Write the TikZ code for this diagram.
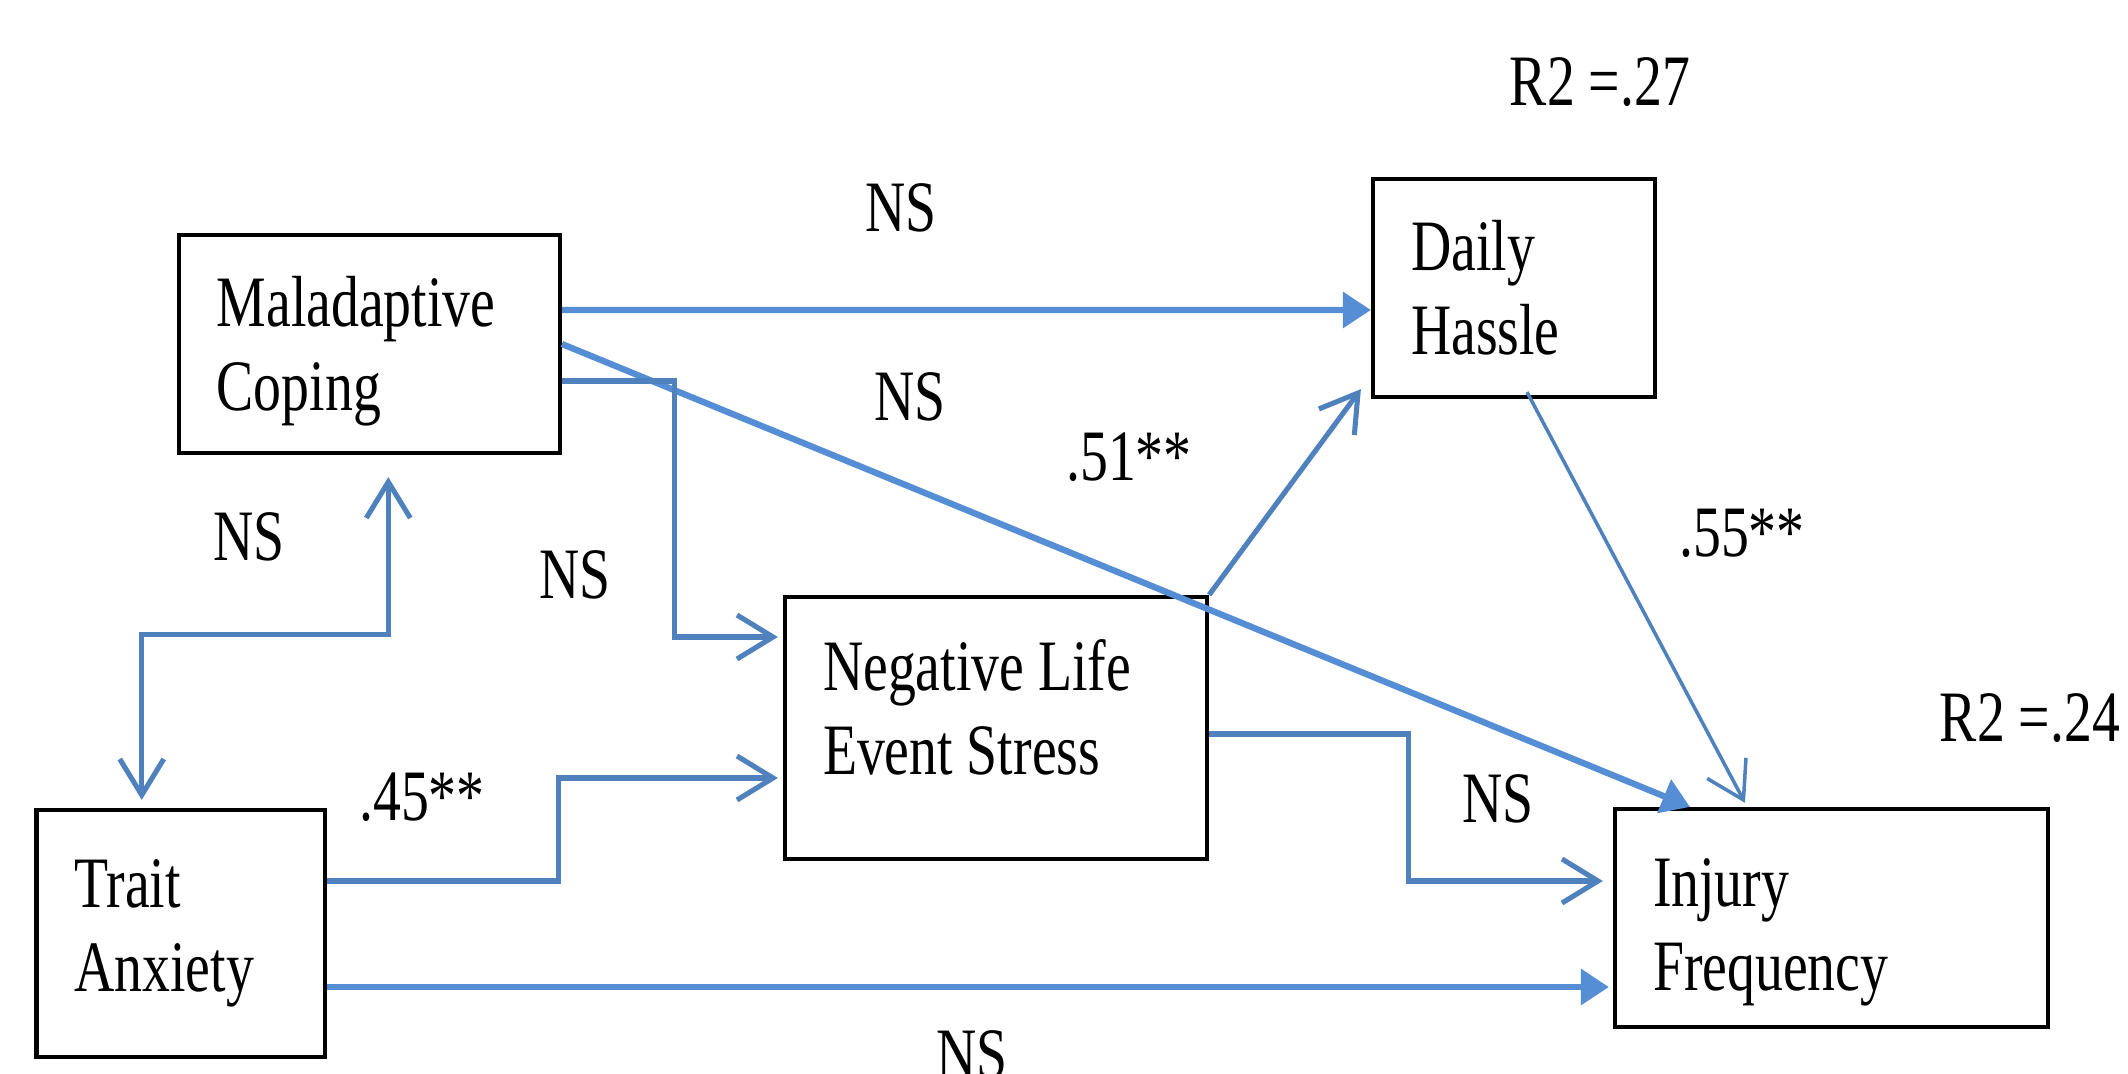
\documentclass[tikz,border=0pt]{standalone}
\usepackage{fontspec}
\setmainfont{Liberation Serif}[FakeStretch=0.77]
\usetikzlibrary{arrows.meta}
\definecolor{pathblue}{HTML}{558ED5}
\definecolor{elbowblue}{HTML}{4F81BD}
\newcommand{\diagfont}{\fontsize{20.6pt}{23.8pt}\selectfont}

\begin{document}
\begin{tikzpicture}[
    every node/.style={font=\diagfont},
    >={Straight Barb[length=3.6mm,width=4.4mm]},
    varbox/.style={draw=black, line width=1.2pt, rectangle, inner xsep=3.8mm,
                   inner ysep=0pt, align=flush left},
    coef/.style={inner sep=0pt},
    parrow/.style={-{Triangle[length=2.8mm,width=3.5mm]}, line width=1.8pt, color=pathblue},
    earrow/.style={->, line width=1.45pt, color=elbowblue}
]
\useasboundingbox (0,0) rectangle (21.28,10.73);

\node[varbox, text width=30.5mm, minimum height=21.8mm] (mal) at (3.693,7.29) {\rule{0pt}{6.4mm}Maladaptive\\Coping};
\node[varbox, text width=20.6mm, minimum height=21.8mm] (dh)  at (15.14,7.85) {Daily\\Hassle};
\node[varbox, text width=21.25mm, minimum height=24.7mm] (ta) at (1.8075,1.395) {Trait\\Anxiety};
\node[varbox, text width=34.6mm, minimum height=26.2mm] (neg) at (9.96,3.45) {Negative Life\\Event Stress\rule[-4.2mm]{0pt}{0pt}};
\node[varbox, text width=35.7mm, minimum height=21.8mm] (inj) at (18.315,1.55) {\rule{0pt}{7.6mm}Injury\\Frequency};

% --- paths out of maladaptive coping ---
\draw[parrow] ([yshift=3.4mm]mal.east) -- ([yshift=-2.2mm]dh.west);
\draw[parrow] (mal.east) -- ([xshift=-14.15mm]inj.north);
\draw[earrow] ([yshift=-3.7mm]mal.east) -- ++(1.13,0) |- ([xshift=-0.5mm,yshift=9.1mm]neg.west);
\draw[earrow, <->] ([xshift=-3.9mm,yshift=0.8mm]ta.north) -- ++(0,1.65)
      -| ([xshift=1.9mm,yshift=-2.2mm]mal.south);

% --- paths out of trait anxiety ---
\draw[earrow] ([yshift=5.25mm]ta.east) -- ++(2.31,0) |- ([xshift=-0.5mm,yshift=-5mm]neg.west);
\draw[parrow] ([yshift=-5.35mm]ta.east) -- ([xshift=-0.4mm,yshift=-6.9mm]inj.west);

% --- mediators ---
\draw[earrow] (neg.north east) -- ([xshift=-1mm,yshift=1mm]dh.south west);
\draw[earrow, line width=1pt] ([xshift=1.3mm,yshift=0.7mm]dh.south) -- ([xshift=-8.65mm,yshift=0.4mm]inj.north);
\draw[earrow] ([yshift=-0.6mm]neg.east) -- ++(1.99,0) |- ([xshift=-1mm,yshift=3.7mm]inj.west);

% --- coefficients ---
\node[coef] (nstm)  at (2.49,5.36)  {NS};
\node[coef] (nsmn)  at (5.75,4.98)  {NS};
\node[coef] (nsmd)  at (9.01,8.65)  {NS};
\node[coef] (nsmi)  at (9.10,6.76)  {NS};
\node[coef] (c51)   at (11.29,6.16) {.51**};
\node[coef] (c55)   at (17.42,5.40) {.55**};
\node[coef] (c45)   at (4.22,2.76)  {.45**};
\node[coef] (nsni)  at (14.98,2.74) {NS};
\node[coef] (nsti)  at (9.72,0.18)  {NS};
\node[coef] (r2dh)  at (16.00,9.91) {R2 =.27};
\node[coef] (r2inj) at (20.30,3.55) {R2 =.24};

\end{tikzpicture}
\end{document}
